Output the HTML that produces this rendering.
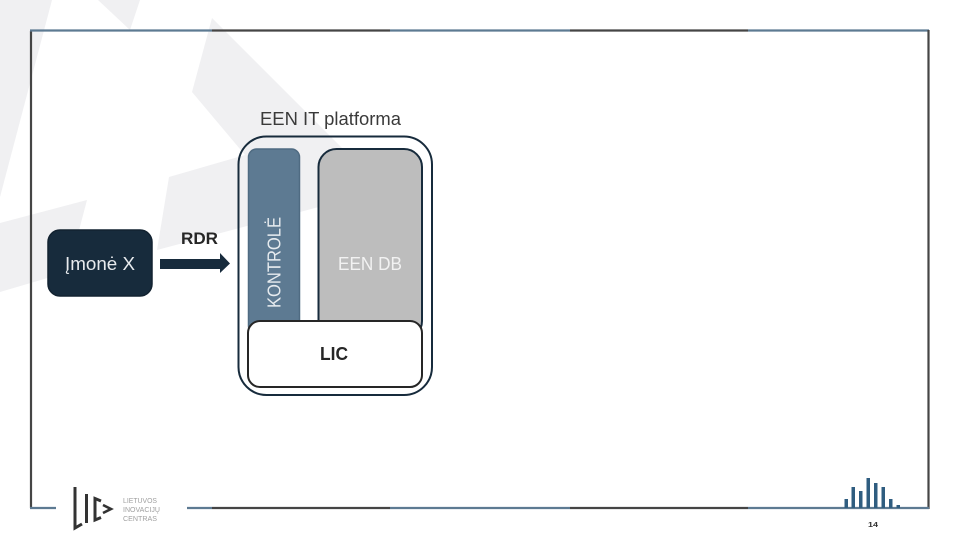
<!DOCTYPE html>
<html><head><meta charset="utf-8"><style>html,body{margin:0;padding:0;background:#fff}svg{display:block}text{font-family:"Liberation Sans",sans-serif}</style></head>
<body>
<svg width="960" height="540" viewBox="0 0 960 540" xmlns="http://www.w3.org/2000/svg">
<rect width="960" height="540" fill="#fff"/>
<g fill="#f0f0f2">
<polygon points="0,0 52,0 0,197"/>
<polygon points="98,0 140,0 130,30"/>
<polygon points="0,223 87,200 68,272 0,292"/>
<polygon points="212,18 345,151 345,200 157,250 169,177 245,155 192,92"/>
</g>
<g fill="none" stroke-width="2.2">
<path d="M31 508V31" stroke="#454545"/>
<path d="M30 30.5H212M390 30.5H570M748 30.5H929" stroke="#5d7a92"/>
<path d="M212 30.5H390M570 30.5H748" stroke="#454545"/>
<path d="M928.5 30V509" stroke="#454545"/>
<path d="M30 508H56M187 508H212M390 508H570M748 508H929" stroke="#5d7a92"/>
<path d="M212 508H390M570 508H748" stroke="#454545"/>
</g>
<rect x="48" y="230" width="104" height="66" rx="12" fill="#172b3c" stroke="#122230" stroke-width="1.5"/>
<text x="65" y="270" font-size="18" fill="#e8ebee" textLength="70" lengthAdjust="spacingAndGlyphs">Įmonė X</text>
<polygon points="160,259 220,259 220,253 230,263.5 220,273 220,269 160,269" fill="#172b3c"/>
<text x="181" y="244" font-size="17" font-weight="700" fill="#262626" textLength="37" lengthAdjust="spacingAndGlyphs">RDR</text>
<text x="260" y="125" font-size="18.5" fill="#3a3a3a" textLength="141" lengthAdjust="spacingAndGlyphs">EEN IT platforma</text>
<rect x="238.5" y="136.5" width="193.5" height="258.5" rx="28" fill="none" stroke="#172b3c" stroke-width="2"/>
<rect x="248.5" y="149" width="51" height="185" rx="8" fill="#5d7a92" stroke="#4f6b82" stroke-width="1.5"/>
<rect x="318.5" y="149" width="103.5" height="190" rx="18" fill="#bdbdbd" stroke="#172b3c" stroke-width="2"/>
<text transform="translate(280.5,308) rotate(-90)" font-size="18" fill="#e6ebef" textLength="91" lengthAdjust="spacingAndGlyphs">KONTROLĖ</text>
<text x="338" y="270" font-size="18" fill="#f2f2f2" textLength="64" lengthAdjust="spacingAndGlyphs">EEN DB</text>
<rect x="248" y="321" width="174" height="66" rx="12" fill="#fff" stroke="#262626" stroke-width="2"/>
<text x="320" y="360" font-size="18" font-weight="700" fill="#262626" textLength="28" lengthAdjust="spacingAndGlyphs">LIC</text>
<g fill="#2f5d80">
<rect x="844.5" y="499" width="3.5" height="9"/>
<rect x="851.5" y="487" width="3.5" height="21"/>
<rect x="859" y="491" width="3.5" height="17"/>
<rect x="866.5" y="478" width="3.5" height="30"/>
<rect x="874" y="483" width="3.5" height="25"/>
<rect x="881.5" y="487" width="3.5" height="21"/>
<rect x="889" y="499" width="3.5" height="9"/>
<rect x="896.5" y="505" width="3.5" height="3"/>
</g>
<text x="868" y="527" font-size="7.5" font-weight="700" fill="#333" textLength="10" lengthAdjust="spacingAndGlyphs">14</text>
<g fill="none" stroke="#333" stroke-width="3">
<path d="M75 487V528L82 524"/>
<path d="M86.5 494V523"/>
<path d="M101 501L95 498.5V520L101 517.5"/>
</g>
<path d="M103 505L111 509L103 513" fill="none" stroke="#333" stroke-width="2.6"/>
<g font-size="7.5" fill="#a0a0a0">
<text x="123" y="503" textLength="34" lengthAdjust="spacingAndGlyphs">LIETUVOS</text>
<text x="123" y="512" textLength="37" lengthAdjust="spacingAndGlyphs">INOVACIJŲ</text>
<text x="123" y="521" textLength="34" lengthAdjust="spacingAndGlyphs">CENTRAS</text>
</g>
</svg>
</body></html>
